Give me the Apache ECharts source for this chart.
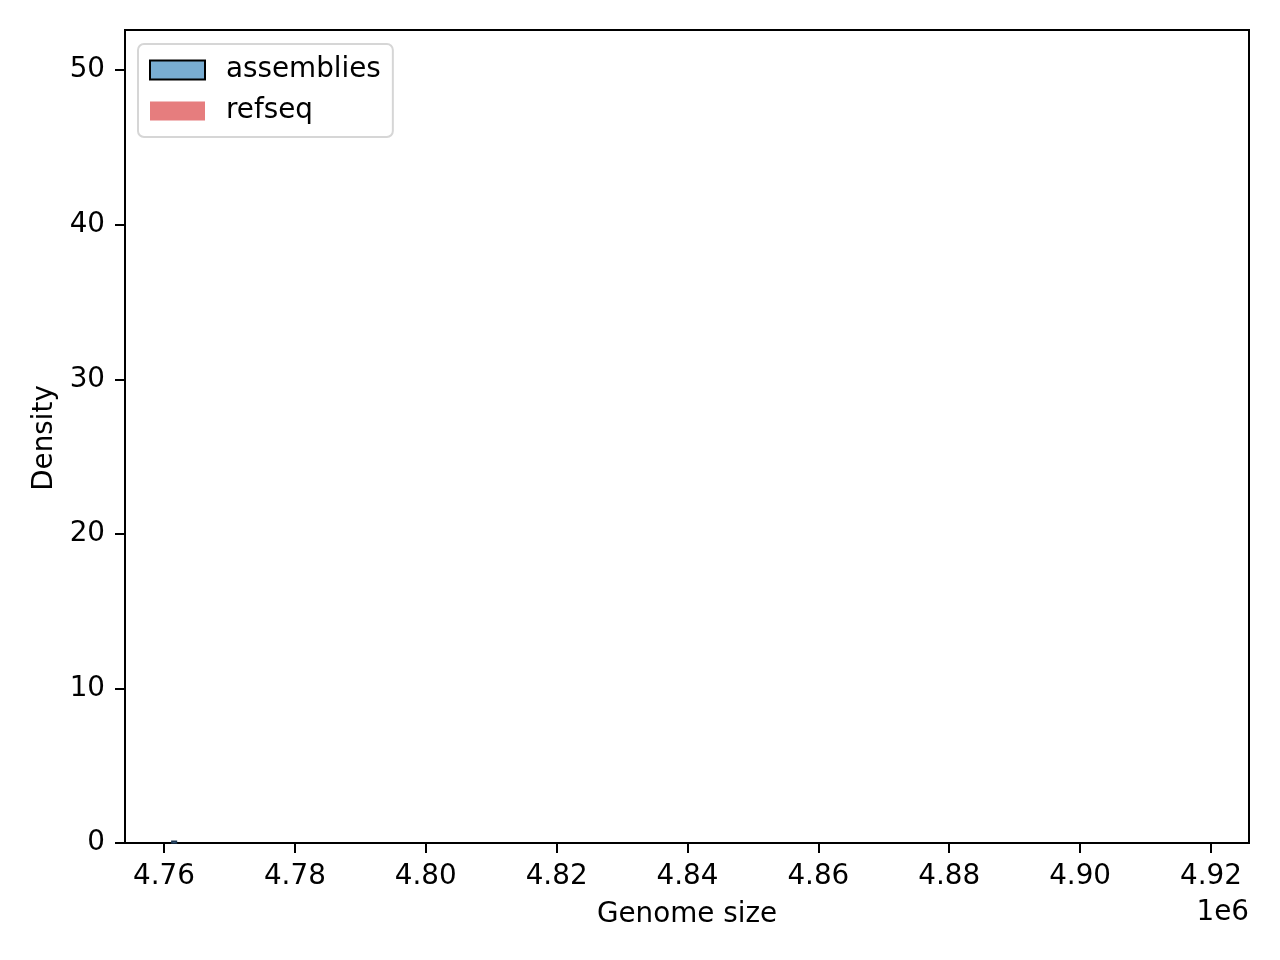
<!DOCTYPE html>
<html>
<head>
<meta charset="utf-8">
<script src="https://cdn.jsdelivr.net/npm/echarts@6/dist/echarts.min.js"></script>
<style>
html,body{margin:0;padding:0;background:#fff;}
#chart{width:1280px;height:960px;}
</style>
</head>
<body>
<div id="chart"></div>
<script>
// Data
const seriesNames = ['assemblies', 'refseq'];
const assembliesBinStart = [4761200];
const assembliesBinEnd = [4761900];
const assembliesDensity = [0.12];
const refseqBinStart = [];
const refseqBinEnd = [];
const refseqDensity = [];
const xTickValues = [4760000, 4780000, 4800000, 4820000, 4840000, 4860000, 4880000, 4900000, 4920000];
const yTickValues = [0, 10, 20, 30, 40, 50];

const FONT = 'DejaVu Sans';
const FS = 27.8;

function rows(starts, ends, vals) {
  return starts.map((s, i) => [s, ends[i], vals[i]]);
}

function histRender(params, api) {
  const p0 = api.coord([api.value(0), api.value(2)]);
  const p1 = api.coord([api.value(1), 0]);
  return {
    type: 'rect',
    shape: { x: p0[0], y: p0[1], width: p1[0] - p0[0], height: p1[1] - p0[1] },
    style: api.style()
  };
}

const chart = echarts.init(document.getElementById('chart'), null, { renderer: 'canvas' });
chart.setOption({
  animation: false,
  backgroundColor: '#fff',
  textStyle: { fontFamily: FONT },
  grid: { left: 125, right: 31, top: 30, bottom: 117, show: true, borderColor: '#000', borderWidth: 2, backgroundColor: 'transparent' },
  legend: {
    orient: 'vertical',
    left: 138, top: 44,
    padding: [12, 12, 12, 11],
    itemWidth: 55, itemHeight: 19, itemGap: 13,
    borderColor: '#d6d6d6', borderWidth: 2, borderRadius: 6,
    backgroundColor: 'rgba(255,255,255,0.8)',
    textStyle: { fontFamily: FONT, fontSize: FS, color: '#000', padding: [0, 0, 0, 16] },
    data: [
      { name: seriesNames[0], icon: 'rect', itemStyle: { color: '#79add2', borderColor: '#000', borderWidth: 2 } },
      { name: seriesNames[1], icon: 'rect', itemStyle: { color: '#e67d7e', borderWidth: 0 } }
    ]
  },
  xAxis: {
    type: 'value',
    min: 4754040, max: 4925810,
    splitLine: { show: false },
    axisLine: { show: true, onZero: false, lineStyle: { color: '#000', width: 2 } },
    axisTick: { show: true, length: 10, lineStyle: { color: '#000', width: 2 }, customValues: xTickValues },
    axisLabel: { fontFamily: FONT, fontSize: FS, color: '#000', margin: 20, customValues: xTickValues,
      formatter: v => (v / 1e6).toFixed(2) }
  },
  yAxis: {
    type: 'value',
    min: 0, max: 52.6,
    splitLine: { show: false },
    axisLine: { show: true, lineStyle: { color: '#000', width: 2 } },
    axisTick: { show: true, length: 10, lineStyle: { color: '#000', width: 2 }, customValues: yTickValues },
    axisLabel: { fontFamily: FONT, fontSize: FS, color: '#000', margin: 20, customValues: yTickValues }
  },
  series: [
    {
      name: seriesNames[0], type: 'custom', renderItem: histRender,
      itemStyle: { color: '#79add2', borderColor: '#1a3550', borderWidth: 1.5 },
      encode: { x: [0, 1], y: 2 },
      data: rows(assembliesBinStart, assembliesBinEnd, assembliesDensity)
    },
    {
      name: seriesNames[1], type: 'custom', renderItem: histRender,
      itemStyle: { color: '#e67d7e' },
      encode: { x: [0, 1], y: 2 },
      data: rows(refseqBinStart, refseqBinEnd, refseqDensity)
    }
  ],
  graphic: [
    { type: 'text', x: 687, y: 915, style: { text: 'Genome size', fontFamily: FONT, fontSize: FS, fill: '#000', align: 'center', verticalAlign: 'middle' } },
    { type: 'text', x: 45, y: 438, rotation: Math.PI / 2, style: { text: 'Density', fontFamily: FONT, fontSize: FS, fill: '#000', align: 'center', verticalAlign: 'middle' } },
    { type: 'text', x: 1249, y: 913, style: { text: '1e6', fontFamily: FONT, fontSize: FS, fill: '#000', align: 'right', verticalAlign: 'middle' } }
  ]
});
</script>
</body>
</html>
